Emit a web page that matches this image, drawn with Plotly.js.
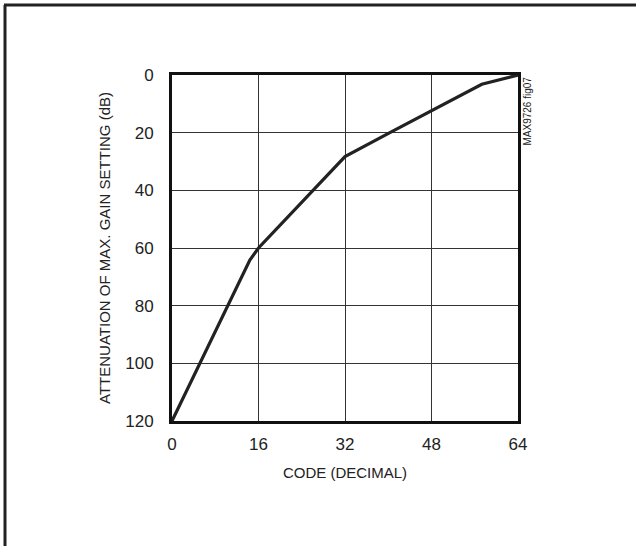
<!DOCTYPE html>
<html>
<head>
<meta charset="utf-8">
<script src="https://cdn.plot.ly/plotly-3.0.1.min.js"></script>
<style>
html,body{margin:0;padding:0;background:#fff;}
#chart{width:636px;height:546px;}
</style>
</head>
<body>
<div id="chart"></div>
<script>
// Data
const code = [0, 5.2, 14.4, 16, 26.2, 32, 40.3, 48, 57.3, 64];
const attenuation = [120, 100, 64.2, 60, 40, 28.3, 20, 12.5, 3.2, 0];
const xTicks = [0, 16, 32, 48, 64];
const yTicks = [0, 20, 40, 60, 80, 100, 120];
const xTitle = 'CODE (DECIMAL)';
const yTitle = 'ATTENUATION OF MAX. GAIN SETTING (dB)';
const figLabel = 'MAX9726 fig07';

const FONT = '"Liberation Sans", Arial, sans-serif';

const trace = {
  x: code,
  y: attenuation,
  type: 'scatter',
  mode: 'lines',
  line: {color: '#222222', width: 3.2},
  hoverinfo: 'skip',
  showlegend: false
};

// plot area: x 172..518, y 75..421 px
const L = 172, T = 75, W = 346, H = 346, FW = 636, FH = 546;
const px = v => (v - L) / W;
const py = v => (T + H - v) / H;

const layout = {
  width: FW,
  height: FH,
  margin: {l: L, r: FW - L - W, t: T, b: FH - T - H, pad: 0},
  paper_bgcolor: '#ffffff',
  plot_bgcolor: '#ffffff',
  font: {family: FONT, color: '#222222', size: 17},
  xaxis: {
    range: [0, 64],
    tickvals: xTicks,
    ticktext: xTicks.map(String),
    ticks: 'outside', ticklen: 6, tickcolor: 'rgba(0,0,0,0)',
    showgrid: true, gridcolor: '#333333', gridwidth: 1,
    zeroline: false,
    showline: true, linecolor: '#111111', linewidth: 3, mirror: true,
    tickfont: {family: FONT, size: 17, color: '#222222'},
    title: {text: xTitle, font: {family: FONT, size: 15, color: '#222222'}, standoff: 15},
    fixedrange: true
  },
  yaxis: {
    range: [120, 0],
    tickvals: yTicks,
    ticktext: yTicks.map(String),
    ticks: 'outside', ticklen: 12, tickcolor: 'rgba(0,0,0,0)',
    showgrid: true, gridcolor: '#333333', gridwidth: 1,
    zeroline: false,
    showline: true, linecolor: '#111111', linewidth: 3, mirror: true,
    tickfont: {family: FONT, size: 17, color: '#222222'},
    title: {text: yTitle, font: {family: FONT, size: 15, color: '#222222'}, standoff: 11},
    fixedrange: true
  },
  shapes: [
    {type: 'line', xref: 'paper', yref: 'paper', x0: px(5), x1: px(5), y0: py(FH + 5), y1: py(5),
     line: {color: '#222222', width: 3}},
    {type: 'line', xref: 'paper', yref: 'paper', x0: px(4), x1: px(FW + 5), y0: py(5), y1: py(5),
     line: {color: '#222222', width: 3}}
  ],
  annotations: [
    {text: figLabel, xref: 'paper', yref: 'paper', x: px(527), y: py(75),
     xanchor: 'center', yanchor: 'top', textangle: -90, showarrow: false,
     font: {family: FONT, size: 10, color: '#222222'}}
  ]
};

Plotly.newPlot('chart', [trace], layout, {displayModeBar: false, staticPlot: true});
</script>
</body>
</html>
